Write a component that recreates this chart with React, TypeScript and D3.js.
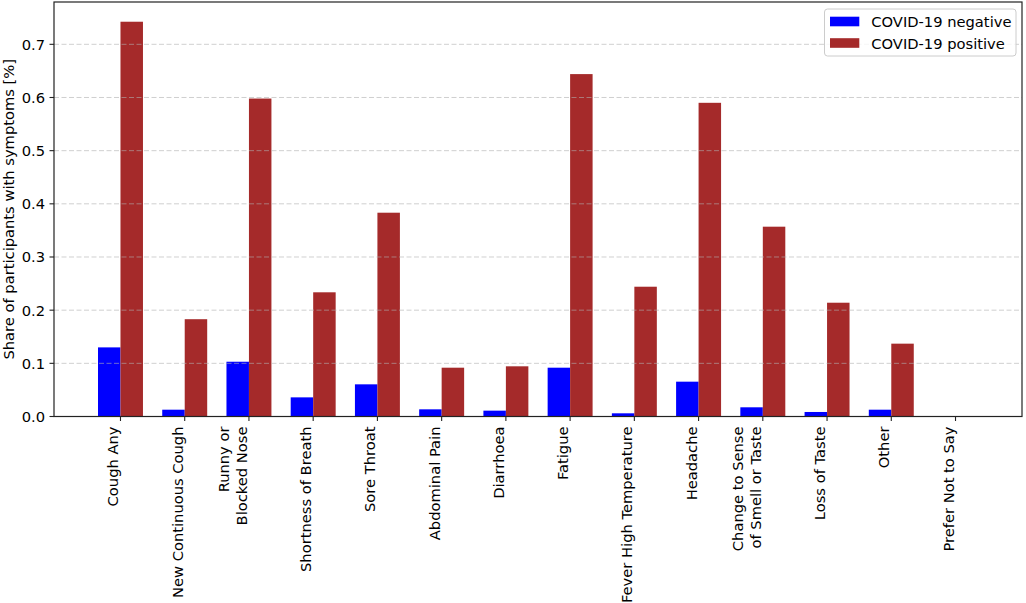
import { useMemo } from 'react';
import * as d3 from 'd3';

// symptom categories (\n = line break in tick label)
const categories = [
  'Cough Any',
  'New Continuous Cough',
  'Runny or\nBlocked Nose',
  'Shortness of Breath',
  'Sore Throat',
  'Abdominal Pain',
  'Diarrhoea',
  'Fatigue',
  'Fever High Temperature',
  'Headache',
  'Change to Sense\nof Smell or Taste',
  'Loss of Taste',
  'Other',
  'Prefer Not to Say',
];

const negative = [0.13, 0.0128, 0.103, 0.036, 0.0605, 0.0135, 0.011, 0.0918, 0.006, 0.0655, 0.0173, 0.0085, 0.0128, 0];
const positive = [0.7425, 0.183, 0.598, 0.2336, 0.3833, 0.0918, 0.0944, 0.644, 0.2441, 0.59, 0.357, 0.214, 0.137, 0];

const yTicks = [0, 0.1, 0.2, 0.3, 0.4, 0.5, 0.6, 0.7];

const series = [
  { name: 'COVID-19 negative', values: negative, color: '#0000ff', offset: -0.175 },
  { name: 'COVID-19 positive', values: positive, color: '#a52a2a', offset: 0.175 },
];

const W = 1026;
const H = 603;
const plot = { left: 54, right: 1022, top: 2, bottom: 416.5 };
const FONT = 'DejaVu Sans, sans-serif';
const FS = 14.7;
const BAR_W = 0.35;

export default function App() {
  const x = useMemo(
    () => d3.scaleLinear().domain([-1.035, 14.035]).range([plot.left, plot.right]),
    []
  );
  const y = useMemo(
    () => d3.scaleLinear().domain([0, 0.7796]).range([plot.bottom, plot.top]),
    []
  );
  const bw = x(BAR_W) - x(0);

  return (
    <div style={{ position: 'fixed', left: 0, top: 0 }}>
      <svg width={W} height={H} viewBox={`0 0 ${W} ${H}`} style={{ display: 'block', background: '#fff' }}>
        {/* bars */}
        {series.map((s) =>
          s.values.map((v, i) => (
            <rect
              key={`${s.name}-${i}`}
              x={x(i + s.offset) - bw / 2}
              y={y(v)}
              width={bw}
              height={y(0) - y(v)}
              fill={s.color}
            />
          ))
        )}

        {/* grid on top of bars */}
        {yTicks.map((t) => (
          <line
            key={`g${t}`}
            x1={plot.left}
            x2={plot.right}
            y1={y(t)}
            y2={y(t)}
            stroke="#b0b0b0"
            strokeOpacity={0.6}
            strokeDasharray="5,2.5"
            strokeWidth={1}
          />
        ))}

        {/* frame */}
        <rect
          x={plot.left}
          y={plot.top}
          width={plot.right - plot.left}
          height={plot.bottom - plot.top}
          fill="none"
          stroke="#222"
          strokeWidth={1.2}
        />

        {/* y axis ticks */}
        {yTicks.map((t) => (
          <g key={`y${t}`}>
            <line x1={plot.left - 4.5} x2={plot.left} y1={y(t)} y2={y(t)} stroke="#222" strokeWidth={1.1} />
            <text
              x={plot.left - 9}
              y={y(t)}
              textAnchor="end"
              dominantBaseline="central"
              fontFamily={FONT}
              fontSize={FS}
              fill="#000"
            >
              {t.toFixed(1)}
            </text>
          </g>
        ))}

        <text
          transform={`translate(14,${(plot.top + plot.bottom) / 2}) rotate(-90)`}
          textAnchor="middle"
          fontFamily={FONT}
          fontSize={FS}
          fill="#000"
        >
          Share of participants with symptoms [%]
        </text>

        {/* x axis ticks */}
        {categories.map((c, i) => {
          const lines = c.split('\n');
          const tx = x(i);
          return (
            <g key={c}>
              <line x1={tx} x2={tx} y1={plot.bottom} y2={plot.bottom + 4.5} stroke="#222" strokeWidth={1.1} />
              {lines.map((ln, j) => {
                const bx = tx - 2 - (lines.length - 1 - j) * 17.6;
                return (
                  <text
                    key={j}
                    transform={`translate(${bx},426.5) rotate(-90)`}
                    textAnchor="end"
                    fontFamily={FONT}
                    fontSize={FS}
                    fill="#000"
                  >
                    {ln}
                  </text>
                );
              })}
            </g>
          );
        })}

        {/* legend */}
        <g>
          <rect x={824.5} y={9} width={191.5} height={47} rx={3} fill="#fff" fillOpacity={0.8} stroke="#cccccc" strokeWidth={1} />
          {series.map((s, i) => (
            <g key={s.name} transform={`translate(0,${21.5 + i * 21.5})`}>
              <rect x={830} y={-4.8} width={29.3} height={9.6} fill={s.color} />
              <text x={871.3} y={0} dominantBaseline="central" fontFamily={FONT} fontSize={FS} fill="#000">
                {s.name}
              </text>
            </g>
          ))}
        </g>
      </svg>
    </div>
  );
}
